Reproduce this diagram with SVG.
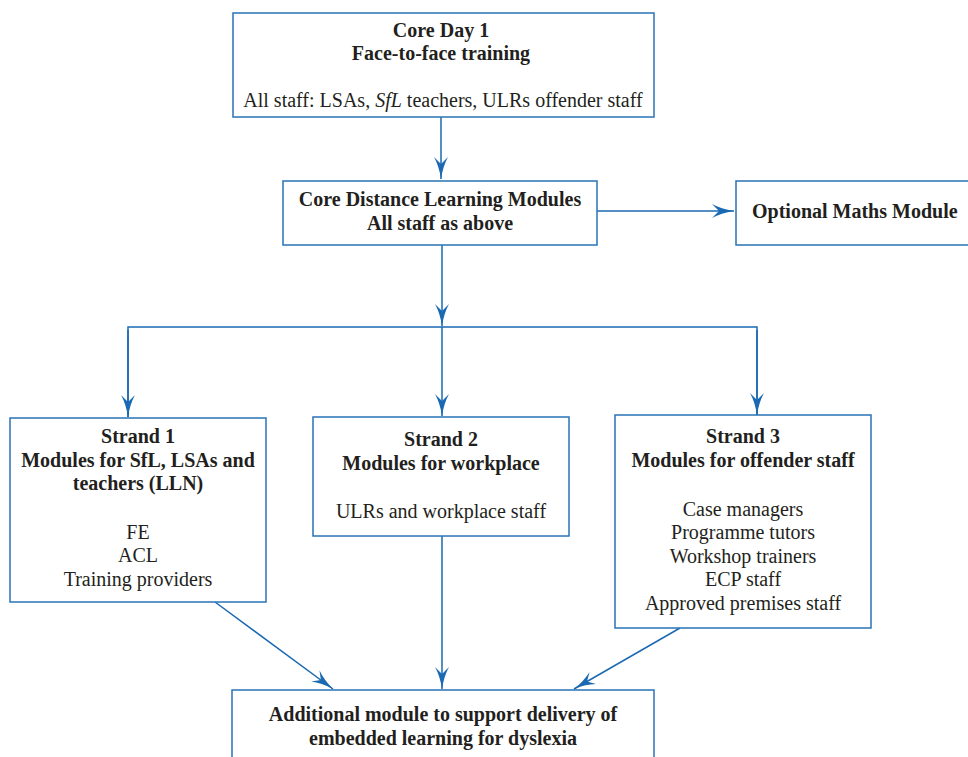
<svg xmlns="http://www.w3.org/2000/svg" width="968" height="757" viewBox="0 0 968 757">
<style>
.box{fill:#fff;stroke:#2a73b8;stroke-width:1.5}
.t{font-size:20px;fill:#231f20;text-anchor:middle}
.b{font-weight:bold}
.c{fill:none;stroke:#1a69b2;stroke-width:1.5}
</style>
<defs>
<marker id="ah" markerUnits="userSpaceOnUse" viewBox="0 0 22 14" refX="22" refY="7" markerWidth="22" markerHeight="14" orient="auto">
<path d="M0,0 Q9,5 22,7 Q9,9 0,14 L7,7 z" fill="#1a69b2"/>
</marker>
</defs>
<rect width="968" height="757" fill="#fff"/>
<g id="connectors">
<path class="c" d="M441,117 V179" marker-end="url(#ah)"/>
<path class="c" d="M597,211 H734" marker-end="url(#ah)"/>
<path class="c" d="M442,245 V326" marker-end="url(#ah)"/>
<path class="c" d="M128,417 V327 H757 V415"/>
<path class="c" d="M128,330 V417" marker-end="url(#ah)"/>
<path class="c" d="M442,327 V416" marker-end="url(#ah)"/>
<path class="c" d="M757,330 V415" marker-end="url(#ah)"/>
<path class="c" d="M215,602 L333,689" marker-end="url(#ah)"/>
<path class="c" d="M442,536 V689" marker-end="url(#ah)"/>
<path class="c" d="M680,628 L574,689" marker-end="url(#ah)"/>
</g>
<g font-family="Liberation Serif, serif">
<g id="core-day">
<rect class="box" x="233" y="13" width="421" height="104"/>
<text class="t b" x="441" y="37">Core Day 1</text>
<text class="t b" x="441" y="60">Face-to-face training</text>
<text class="t" x="443" y="107">All staff: LSAs, <tspan font-style="italic">SfL</tspan> teachers, ULRs offender staff</text>
</g>
<g id="core-distance">
<rect class="box" x="283" y="181" width="314" height="64"/>
<text class="t b" x="440" y="206">Core Distance Learning Modules</text>
<text class="t b" x="440" y="230">All staff as above</text>
</g>
<g id="optional-maths">
<rect class="box" x="736" y="181" width="240" height="64"/>
<text class="t b" x="752" y="218" style="text-anchor:start">Optional Maths Module</text>
</g>
<g id="strand1">
<rect class="box" x="10" y="418" width="256" height="184"/>
<text class="t b" x="138" y="443">Strand 1</text>
<text class="t b" x="138" y="467">Modules for SfL, LSAs and</text>
<text class="t b" x="138" y="490">teachers (LLN)</text>
<text class="t" x="138" y="539">FE</text>
<text class="t" x="138" y="562">ACL</text>
<text class="t" x="138" y="586">Training providers</text>
</g>
<g id="strand2">
<rect class="box" x="313" y="417" width="256" height="119"/>
<text class="t b" x="441" y="446">Strand 2</text>
<text class="t b" x="441" y="470">Modules for workplace</text>
<text class="t" x="441" y="518">ULRs and workplace staff</text>
</g>
<g id="strand3">
<rect class="box" x="615" y="415" width="256" height="213"/>
<text class="t b" x="743" y="443">Strand 3</text>
<text class="t b" x="743" y="467">Modules for offender staff</text>
<text class="t" x="743" y="516">Case managers</text>
<text class="t" x="743" y="539">Programme tutors</text>
<text class="t" x="743" y="563">Workshop trainers</text>
<text class="t" x="743" y="586">ECP staff</text>
<text class="t" x="743" y="610">Approved premises staff</text>
</g>
<g id="additional">
<rect class="box" x="232" y="690" width="422" height="80"/>
<text class="t b" x="443" y="721">Additional module to support delivery of</text>
<text class="t b" x="443" y="745">embedded learning for dyslexia</text>
</g>
</g>
</svg>
